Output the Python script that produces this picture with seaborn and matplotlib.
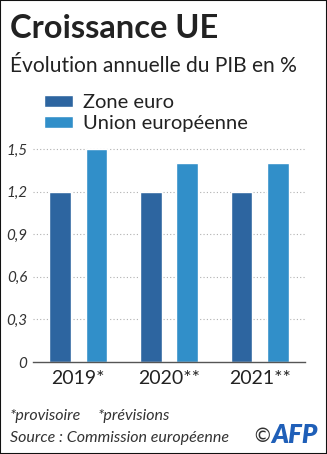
import matplotlib
matplotlib.use("Agg")
import matplotlib.pyplot as plt
import seaborn as sns
import pandas as pd
from matplotlib.patches import Rectangle

years = ["2019*", "2020**", "2021**"]
zone_euro = [1.2, 1.2, 1.2]
union_eu = [1.5, 1.4, 1.4]
series_names = ["Zone euro", "Union européenne"]
yticks = [0, 0.3, 0.6, 0.9, 1.2, 1.5]
ytick_labels = ["0", "0,3", "0,6", "0,9", "1,2", "1,5"]

df = pd.DataFrame({
    "year": years * 2,
    "value": zone_euro + union_eu,
    "series": [series_names[0]] * 3 + [series_names[1]] * 3,
})

sns.set_theme(style="white")
plt.rcParams["font.family"] = ["Lato", "DejaVu Sans"]

fig = plt.figure(figsize=(3.27, 4.54), dpi=100)
ax = fig.add_axes([33 / 327, 1 - 362 / 454, (305 - 33) / 327, (362 - 134.8) / 454])

palette = {"Zone euro": "#2d65a0", "Union européenne": "#318fc9"}
sns.barplot(data=df, x="year", y="value", hue="series", palette=palette,
            width=0.8, gap=0.4, ax=ax, saturation=1, legend=True)

ax.set_xlim(-0.5, 2.5)
ax.set_ylim(0, 1.6)
ax.set_yticks(yticks)
ax.set_yticklabels(ytick_labels, fontsize=11, style="italic", color="#333333")
ax.set_xlabel("")
ax.set_ylabel("")
ax.tick_params(axis="both", length=0)
ax.tick_params(axis="y", pad=4)
ax.tick_params(axis="x", pad=6, labelsize=14, labelcolor="#222222")
for s in ["top", "right", "left"]:
    ax.spines[s].set_visible(False)
ax.spines["bottom"].set_color("#555555")
ax.spines["bottom"].set_linewidth(1.0)
ax.yaxis.grid(True, linestyle=(0, (1, 2)), color="#b0b0b0", linewidth=0.8)
ax.xaxis.grid(False)
ax.set_axisbelow(True)
for line in ax.get_ygridlines()[:1]:
    line.set_visible(False)

handles, labels = ax.get_legend_handles_labels()
ax.legend(handles, labels, loc="upper left", bbox_to_anchor=(44 / 327, 1 - 94 / 454),
          bbox_transform=fig.transFigure, frameon=False, fontsize=14.5,
          handlelength=1.45, handleheight=0.55, handletextpad=0.5,
          labelspacing=0.2, borderpad=0, borderaxespad=0, labelcolor="#222222")

fig.text(10 / 327, 1 - 38 / 454, "Croissance UE", fontsize=23.5, fontweight="bold",
         color="#222222", va="baseline", ha="left")
fig.text(10 / 327, 1 - 72 / 454, "Évolution annuelle du PIB en %", fontsize=15.1,
         color="#222222", va="baseline", ha="left")
fig.text(10 / 327, 1 - 420 / 454, "*provisoire", fontsize=11.5, style="italic",
         color="#333333", va="baseline", ha="left")
fig.text(98 / 327, 1 - 420 / 454, "*prévisions", fontsize=11.5, style="italic",
         color="#333333", va="baseline", ha="left")
fig.text(10 / 327, 1 - 442 / 454, "Source : Commission européenne", fontsize=11.5,
         style="italic", color="#333333", va="baseline", ha="left")
fig.text(252 / 327, 1 - 442 / 454, "©", fontsize=14, color="#333333",
         va="baseline", ha="left", family=["DejaVu Sans"])
fig.text(271 / 327, 1 - 443 / 454, "AFP", fontsize=18.5, fontweight="heavy",
         style="italic", color="#1f5fb8", va="baseline", ha="left")

fig.patches.append(Rectangle((0, 0), 1, 1, transform=fig.transFigure, fill=False,
                             edgecolor="#111111", linewidth=1.5))

fig.savefig("out.png", dpi=100)
